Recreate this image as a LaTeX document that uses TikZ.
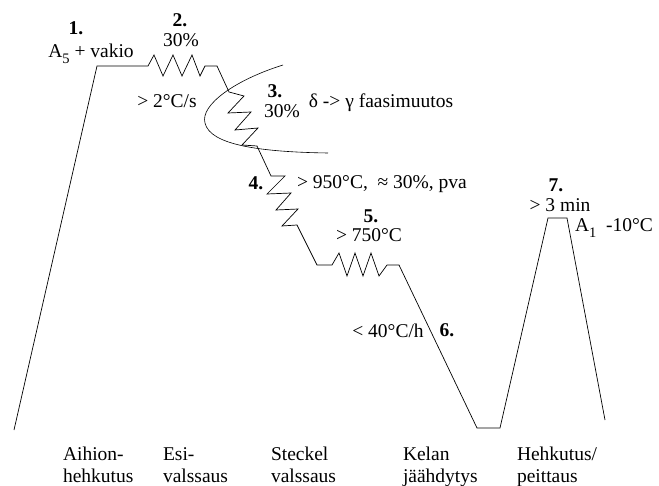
\documentclass[tikz,border=0pt]{standalone}
\usepackage{fontspec}
\setmainfont{Liberation Serif}
\newcommand\lowidx[1]{\raisebox{-0.28em}{\fontsize{14.5}{14.5}\selectfont #1}}
\begin{document}
\begin{tikzpicture}[x=1pt,y=-1pt,
  curve/.style={line width=0.7pt, line join=miter},
  every node/.style={inner sep=0pt, outer sep=0pt},
  lbl/.style={anchor=base, font=\fontsize{19.5}{23}\selectfont},
  lblw/.style={anchor=base west, font=\fontsize{19.5}{23}\selectfont},
  num/.style={anchor=base, font=\fontsize{19.5}{23}\selectfont\bfseries}]
\useasboundingbox (0,0) rectangle (659,486);

% temperature-time route
\draw[curve]
  (14,430) -- (97,66) -- (148,66)
  % roughing passes
  -- (154,55) -- (163,76) -- (173,55) -- (182,76) -- (192,55) -- (200,76) -- (205,66)
  -- (217,66) -- (229,92)
  % passes during the delta -> gamma transformation
  -- (244,96) -- (228,113) -- (251,112) -- (235,130) -- (258,128) -- (242,145) -- (257,146)
  -- (271,176)
  % Steckel passes
  -- (285,176) -- (267,194) -- (291,193) -- (276,210) -- (298,209) -- (282,226) -- (297,225)
  -- (317,265) -- (332,265)
  % finishing passes
  -- (339,253) -- (347,276) -- (355,253) -- (363,276) -- (371,253) -- (379,276) -- (387,265)
  -- (399,265)
  % coil cooling
  -- (477,428) -- (500,428)
  % annealing / pickling
  -- (548,218) -- (567,218) -- (605,420);

% delta -> gamma transformation region
\draw[line width=0.6pt] (283,65) .. controls (235,80) and (200,105) .. (205,123)
  .. controls (210,145) and (260,152) .. (328,153);

% stage labels
\node[num] (n1) at (76,35) {1.};
\node[lbl] (t1) at (91,58) {A\lowidx{5} + vakio};
\node[num] (n2) at (180,27) {2.};
\node[lbl] (t2) at (181,47) {30\%};
\node[lbl] (t2b) at (167,108) {> 2°C/s};
\node[num] (n3) at (275,98) {3.};
\node[lbl] (t3) at (282,118) {30\%};
\node[lbl] (t3b) at (381,108) {δ -> γ faasimuutos};
\node[num] (n4) at (256,190) {4.};
\node[lbl] (t4) at (382,189) {> 950°C, \ ≈ 30\%, pva};
\node[num] (n5) at (371,223) {5.};
\node[lbl] (t5) at (369,242) {> 750°C};
\node[lbl] (t6) at (388,338) {< 40°C/h};
\node[num] (n6) at (447,337) {6.};
\node[num] (n7) at (556,192) {7.};
\node[lbl] (t7) at (560,212) {> 3 min};
\node[lblw] (t7b) at (575,232) {A\lowidx{1} \ -10°C};

% process steps
\node[lblw] (s1a) at (63,460) {Aihion-};
\node[lblw] (s1b) at (63,482) {hehkutus};
\node[lblw] (s2a) at (163,460) {Esi-};
\node[lblw] (s2b) at (163,482) {valssaus};
\node[lblw] (s3a) at (271,460) {Steckel};
\node[lblw] (s3b) at (271,482) {valssaus};
\node[lblw] (s4a) at (403,460) {Kelan};
\node[lblw] (s4b) at (403,482) {jäähdytys};
\node[lblw] (s5a) at (517,460) {Hehkutus/};
\node[lblw] (s5b) at (517,482) {peittaus};
\end{tikzpicture}
\end{document}
